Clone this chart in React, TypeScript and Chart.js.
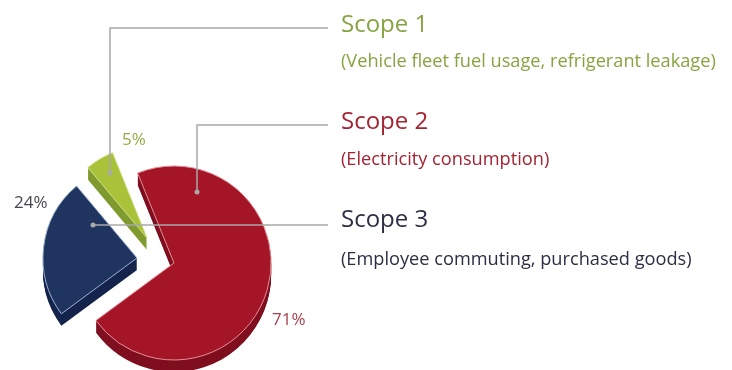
import React, { useEffect, useRef } from "react";
import { Chart, registerables } from "chart.js";

Chart.register(...registerables);

const scopes = ["Scope 1", "Scope 2", "Scope 3"];
const details = [
  "(Vehicle fleet fuel usage, refrigerant leakage)",
  "(Electricity consumption)",
  "(Employee commuting, purchased goods)",
];
const shares = [5, 71, 24];
const faceColors = ["#a8c23a", "#a41627", "#1f3560"];
const sideColors = ["#7f9a2e", "#7f0f1f", "#15244c"];
const edgeColors = ["#d4e08e", "#e58e98", "#9db0d2"];
const textColors = ["#86a442", "#a52432", "#2c2e44"];
const shareTextColors = ["#93ad48", "#a8404c", "#45474f"];

// Exploded wedge placement relative to the pie centre, and each wedge's radius.
const wedgeShift = [
  { dx: -27, dy: -25, radius: 92 },
  { dx: 0, dy: 0, radius: 97 },
  { dx: -37, dy: -5, radius: 94 },
];
const extrusionDepth = 12;

// Leader line anchor relative to the wedge apex, then the height of its run to the text.
const leaders = [
  { dx: -37, dy: -65, runY: 28 },
  { dx: 23, dy: -71, runY: 125 },
  { dx: -44, dy: -33, runY: 225 },
];
const leaderEndX = 328;

const titleFont = "24px 'Open Sans'";
const detailFont = "18.2px 'Open Sans'";
const shareFont = "17px 'Open Sans'";
const textX = 341;
const titleY = [32, 129, 227];
const detailY = [67, 165, 265];
const shareLabelPos = [
  { x: 122, y: 145 },
  { x: 272, y: 325 },
  { x: 14, y: 208 },
];

const explodedPie = {
  id: "explodedPie",
  afterDatasetsUpdate(chart: any) {
    chart.getDatasetMeta(0).data.forEach((arc: any, i: number) => {
      arc.x += wedgeShift[i].dx;
      arc.y += wedgeShift[i].dy;
      arc.outerRadius = wedgeShift[i].radius;
    });
  },
  beforeDatasetsDraw(chart: any) {
    const ctx = chart.ctx;
    chart.getDatasetMeta(0).data.forEach((arc: any, i: number) => {
      const faceOptions = arc.options;
      arc.options = { ...faceOptions, backgroundColor: sideColors[i], borderWidth: 0 };
      for (let k = extrusionDepth; k >= 1; k--) {
        ctx.save();
        ctx.translate(0, k);
        arc.draw(ctx);
        ctx.restore();
      }
      arc.options = faceOptions;
    });
  },
  afterDatasetsDraw(chart: any) {
    const ctx = chart.ctx;
    const arcs = chart.getDatasetMeta(0).data;

    ctx.save();
    ctx.strokeStyle = "#a9a9a9";
    ctx.fillStyle = "#a9a9a9";
    ctx.lineWidth = 1.5;
    arcs.forEach((arc: any, i: number) => {
      const ax = arc.x + leaders[i].dx;
      const ay = arc.y + leaders[i].dy;
      ctx.beginPath();
      ctx.moveTo(ax, ay);
      ctx.lineTo(ax, leaders[i].runY);
      ctx.lineTo(leaderEndX, leaders[i].runY);
      ctx.stroke();
      ctx.beginPath();
      ctx.arc(ax, ay, 2.5, 0, Math.PI * 2);
      ctx.fill();
    });

    ctx.textBaseline = "alphabetic";
    ctx.textAlign = "left";
    scopes.forEach((scope, i) => {
      ctx.fillStyle = textColors[i];
      ctx.font = titleFont;
      ctx.fillText(scope, textX, titleY[i]);
      ctx.font = detailFont;
      ctx.fillText(details[i], textX, detailY[i]);
      ctx.fillStyle = shareTextColors[i];
      ctx.font = shareFont;
      ctx.fillText(`${shares[i]}%`, shareLabelPos[i].x, shareLabelPos[i].y);
    });
    ctx.restore();
  },
};

export default function App() {
  const canvasRef = useRef<HTMLCanvasElement>(null);

  useEffect(() => {
    const chart = new Chart(canvasRef.current!, {
      type: "pie",
      data: {
        labels: scopes,
        datasets: [
          {
            data: shares,
            backgroundColor: faceColors,
            borderColor: edgeColors,
            borderWidth: 1,
          },
        ],
      },
      options: {
        responsive: false,
        animation: false,
        rotation: 320,
        layout: { padding: { left: 0, right: 384, top: 166, bottom: 10 } },
        plugins: { legend: { display: false }, tooltip: { enabled: false } },
      },
      plugins: [explodedPie],
    } as any);
    return () => chart.destroy();
  }, []);

  return (
    <div style={{ position: "fixed", left: 0, top: 0, width: 732, height: 370, background: "#fff" }}>
      <canvas ref={canvasRef} width={732} height={370} style={{ display: "block" }} />
    </div>
  );
}
